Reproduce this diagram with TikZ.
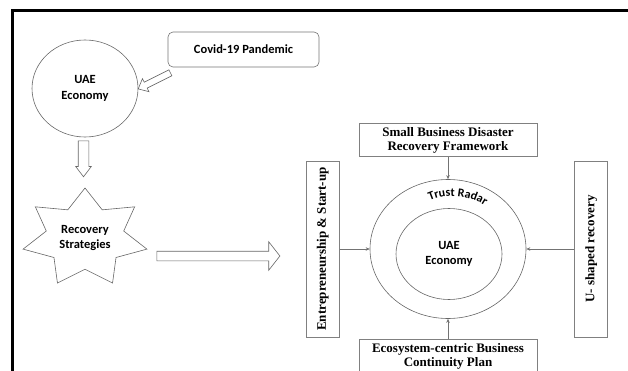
\documentclass[tikz,border=0pt]{standalone}
\usepackage{fontspec}
\setmainfont{Liberation Serif}
\newfontfamily\calibri{Carlito}
\newcommand\radarfont{\calibri\bfseries\fontsize{12}{12}\selectfont}
\usetikzlibrary{positioning,calc,shapes.geometric,shapes.arrows,decorations.text,arrows.meta}

\begin{document}
\begin{tikzpicture}[-,>={Stealth[length=4pt,width=3.5pt]},x=1pt,y=1pt,
    sans/.style={font=\calibri\bfseries\fontsize{12.5}{15.5}\selectfont},
    ring/.style={ellipse,draw=black!60,line width=0.6pt,inner sep=0pt,align=center,sans},
    box/.style={draw=black!50,line width=0.8pt,inner sep=0pt,align=center,font=\bfseries\fontsize{13}{13.5}\selectfont},
    side box/.style={box,rotate=90,minimum width=176pt,minimum height=33pt},
    hollow/.style={single arrow,draw=black!60,line width=0.6pt,inner xsep=0pt},
    link/.style={->,draw=black!55,line width=0.7pt}]

    \useasboundingbox (0,0) rectangle (628,-371);
    \draw[line width=2.2pt] (12.5,-371) -- (12.5,-10.5) -- (628,-10.5);

    % left side
    \node[ring,minimum width=106pt,minimum height=97pt] (eco) at (85,-88.5) {UAE\\Economy};
    \node[draw=black!55,line width=0.6pt,rounded corners=5pt,sans,minimum width=151pt,minimum height=35pt] (covid) at (243.5,-49.5) {Covid-19 Pandemic};
    \begin{scope}[shift={(85,-238)},xscale=1.27]
        \node[star,star points=7,star point ratio=1.6,draw=black!60,line width=0.6pt,minimum size=100pt,inner sep=0pt,transform shape] (rec) {};
    \end{scope}
    \node[sans,align=center] (rectext) at (rec) {Recovery\\Strategies};

    \node[hollow,inner ysep=3pt,single arrow head extend=4pt,single arrow tip angle=82,minimum height=36pt,rotate=206.6] (a1) at (156,-80) {};
    \node[hollow,inner ysep=5pt,single arrow head extend=2.5pt,single arrow tip angle=74,minimum height=36pt,rotate=-90] (a2) at ($(eco.south)+(-1.5,-18)$) {};
    \node[hollow,inner ysep=4.5pt,single arrow head extend=9.5pt,single arrow tip angle=104,minimum height=123pt] (a3) at (216.5,-256) {};

    % right side
    \node[ring,minimum width=156pt,minimum height=139pt] (radar) at (448,-249) {};
    \node[ring,minimum width=106pt,minimum height=91pt] (core) at (449,-254) {UAE\\Economy};
    \node[box,minimum width=178pt,minimum height=33pt] (fw) [above=22pt of radar] {Small Business Disaster\\Recovery Framework};
    \node[box,minimum width=178pt,minimum height=33pt] (bcp) [below=20.5pt of radar] {Ecosystem-centric Business\\Continuity Plan};
    \node[side box] (ent) [left=30pt of radar,anchor=south] {Entrepreneurship \& Start-up};
    \node[side box] (ushape) [right=48pt of radar,anchor=north] {U- shaped recovery};

    \path[decorate,decoration={text along path,text align=center,text={|\radarfont|Trust Radar}}]
        ($(radar)+(5,-4)+(125:57)$) arc[start angle=125,end angle=45,radius=57];

    \draw[link] (fw) -- (radar);
    \draw[link] (bcp) -- (radar);
    \draw[link] (ent) -- (radar);
    \draw[link] (ushape) -- (radar);
\end{tikzpicture}
\end{document}
